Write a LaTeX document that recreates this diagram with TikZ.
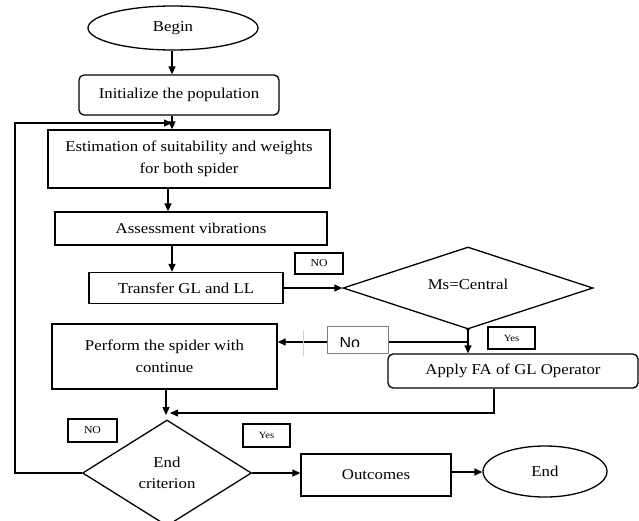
\documentclass[tikz,border=0pt]{standalone}
\usepackage{fontspec}
\setmainfont{Liberation Serif}[FakeStretch=1.12]
\newfontfamily\sansf{Liberation Sans}
\usetikzlibrary{shapes.geometric,arrows.meta}
\begin{document}
\begin{tikzpicture}[x=1pt,y=-1pt,
  line width=1.3pt,
  arr/.style={-{Triangle[length=8pt,width=7pt]}},
  mainfont/.style={font=\fontsize{15}{21.5}\selectfont},
  box/.style={draw,rectangle,inner sep=0pt,align=center,mainfont},
  rbox/.style={box,rounded corners=5pt},
  oval/.style={draw,ellipse,inner sep=0pt,mainfont},
  dia/.style={draw,diamond,inner sep=0pt},
  lbl/.style={draw,rectangle,inner sep=0pt,font=\fontsize{10.5}{12}\selectfont},
  ylbl/.style={draw,rectangle,inner sep=0pt,font=\fontsize{9.5}{11}\selectfont}]
\useasboundingbox (0,0) rectangle (639,520);
\clip (0,0) rectangle (639,520);

\node[oval,minimum width=170,minimum height=44] (begin) at (173,28) {Begin};
\node[rbox,minimum width=200,minimum height=40] (init) at (179,95) {Initialize the population};
\node[box,minimum width=282,minimum height=58] (est) at (189,159) {Estimation of suitability and weights\\for both spider};
\node[box,minimum width=272,minimum height=33] (assess) at (191,228.5) {Assessment vibrations};
\node[box,minimum width=194,minimum height=31] (transfer) at (186,288) {Transfer GL and LL};
\node[lbl,minimum width=48,minimum height=21] (no1) at (319,263.5) {NO};
\node[dia,minimum width=250,minimum height=82] (ms) at (468,288) {};
\node[mainfont] at (468,284) (mstxt) {Ms=Central};
\node[box,minimum width=225,minimum height=65] (perform) at (164.5,356.5) {Perform the spider with\\continue};
\node[rbox,minimum width=250,minimum height=34] (apply) at (513,371) {Apply FA of GL Operator};
\node[ylbl,minimum width=47,minimum height=22] (yes1) at (511.5,338) {Yes};
\node[dia,minimum width=169,minimum height=106] (endc) at (167,473) {};
\node[mainfont,align=center] at (167,473) (endctxt) {End\\criterion};
\node[lbl,minimum width=49,minimum height=23] (no2) at (92.5,430.5) {NO};
\node[ylbl,minimum width=47,minimum height=23] (yes2) at (266.5,435.5) {Yes};
\node[box,minimum width=150,minimum height=42] (out) at (376,475) {Outcomes};
\node[oval,minimum width=124,minimum height=51] (end) at (545,471.5) {End};

% connectors
\draw[arr] (begin.south -| 172,0) -- (init.north -| 172,0);
\coordinate (loopend) at (172,123);
\draw[arr] (init.south -| 172,0) -- (est.north -| 172,0);
\draw[arr] (endc.west) -- (15,473) -- (15,123) -- (loopend);
\draw[arr] (est.south -| 168,0) -- (assess.north -| 168,0);
\draw[arr] (assess.south -| 172,0) -- (transfer.north -| 172,0);
\draw[arr] (transfer.east) -- (ms.west);
\coordinate (j) at (468,342);
\draw[arr] (ms.south) -- (ms.south |- apply.north);
\fill (ms.south) circle (1.8pt);
\draw[arr] (j) -- (j -| perform.east);
\draw[gray!35,line width=0.6pt] (303,330) -- (303,356);
\node[draw=gray,fill=white,line width=0.9pt,minimum width=61,minimum height=27,inner sep=0pt] (nobox) at (357.5,339.5) {};
\begin{scope}
\clip (328,327) rectangle (387,346.5);
\node[anchor=base west,inner sep=0pt] (notxt) at (339,348) {\sansf\fontsize{16}{18}\selectfont No};
\end{scope}
\draw[arr] (apply.south -| 494,0) -- (494,413) -- (170,413);
\draw[arr] (perform.south -| 166,0) -- (166,415);
\draw[arr] (endc.east) -- (endc.east -| out.west);
\draw[arr] (out.east |- 0,472) -- (end.west |- 0,472);
\end{tikzpicture}
\end{document}
